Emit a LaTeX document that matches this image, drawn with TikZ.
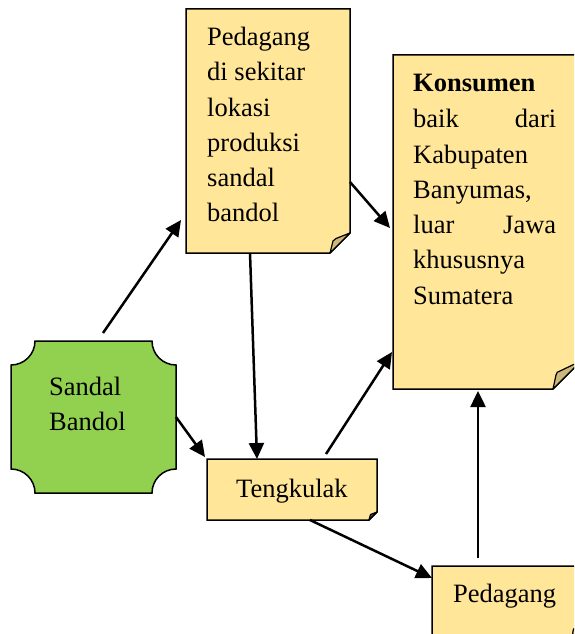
\documentclass[tikz,border=0pt]{standalone}
\usepackage{fontspec}
\setmainfont{Liberation Serif}
\usetikzlibrary{arrows.meta,calc}
\definecolor{boxy}{HTML}{FFE699}
\definecolor{greenb}{HTML}{92D050}
\definecolor{flapc}{HTML}{CCB87A}
\begin{document}
\begin{tikzpicture}[x=1pt,y=-1pt,
  boxfill/.style={fill=boxy,draw=black,line width=1.5pt,line join=miter},
  flap/.style={fill=flapc,draw=black,line width=1.2pt,line join=round},
  holder/.style={inner sep=0pt,outer sep=0pt,draw=none},
  conn/.style={-{Triangle[length=16pt,width=15pt]},line width=2.5pt},
  lbl/.style={anchor=base west,inner sep=0pt,font=\fontsize{26.5}{35}\selectfont}]
\useasboundingbox (0,0) rectangle (574,634);
\clip (0,0) rectangle (574,634);

% top box: Pedagang di sekitar ...
\draw[boxfill] (186,9) -- (350,9) -- (350,233) -- (330,253) -- (186,253) -- cycle;
\draw[flap] (330,253) -- (333,241) .. controls (334,239) .. (336,238.5) -- (350,233) -- cycle;
\node[holder,minimum width=164pt,minimum height=244pt] (b1) at (268,131) {};
\foreach \t [count=\i from 0] in {Pedagang, di sekitar, lokasi, produksi, sandal, bandol}
  \node[lbl] (b1t\i) at (207,{46+35*\i}) {\t};

% Konsumen box
\draw[boxfill] (393,55) -- (581,55) -- (581,361) -- (553,389) -- (393,389) -- cycle;
\draw[flap] (553,389) -- (556,375) .. controls (557,372) .. (560,371) -- (581,361) -- cycle;
\node[holder,minimum width=188pt,minimum height=334pt] (kon) at (487,222) {};
\node[lbl] (k0) at (413,92) {\textbf{Konsumen}};
\node[lbl] (k1) at (413,127) {\makebox[143pt][l]{baik\hfill dari}};
\node[lbl] (k2) at (413,163) {Kabupaten};
\node[lbl] (k3) at (413,198) {Banyumas,};
\node[lbl] (k4) at (413,233) {\makebox[143pt][l]{luar\hfill Jawa}};
\node[lbl] (k5) at (413,268) {khususnya};
\node[lbl] (k6) at (413,304) {Sumatera};

% Sandal Bandol (green plaque)
\draw[fill=greenb,draw=black,line width=1.5pt]
  (11,365) -- (11,469) .. controls (24.25,469) and (35,479.75) .. (35,493)
  -- (152,493) .. controls (152,479.75) and (162.75,469) .. (176,469)
  -- (176,365) .. controls (162.75,365) and (152,354.25) .. (152,341)
  -- (35,341) .. controls (35,354.25) and (24.25,365) .. (11,365) -- cycle;
\node[holder,minimum width=165pt,minimum height=152pt] (sb) at (93.5,417) {};
\node[lbl] (sb1) at (49,395) {Sandal};
\node[lbl] (sb2) at (49,430) {Bandol};

% Tengkulak box
\draw[boxfill] (207,459) -- (377,459) -- (377,512) -- (369,520) -- (207,520) -- cycle;
\draw[flap,fill=black!70] (369,520) -- (370.5,514.5) -- (377,512) -- cycle;
\node[holder,minimum width=170pt,minimum height=61pt] (tk) at (292,489.5) {};
\node[lbl] (tk1) at (236,497) {Tengkulak};

% Pedagang (bottom) box
\draw[boxfill] (432,566) -- (588,566) -- (588,626) -- (572,642) -- (432,642) -- cycle;
\draw[flap] (572,642) -- (573,631) .. controls (573.5,628.5) .. (576,628) -- (588,626) -- cycle;
\node[holder,minimum width=156pt,minimum height=76pt] (pd) at (510,604) {};
\node[lbl] (pd1) at (453,602) {Pedagang};

% connectors
\draw[conn] ([shift={(92,-8)}]sb.north west) -- ([shift={(-5,89)}]b1.west);
\draw[conn] (sb.east) -- ([shift={(-2,-2)}]tk.north west);
\draw[conn] ([shift={(64,0)}]b1.south west) -- ([shift={(50,0)}]tk.north west);
\draw[conn] ([shift={(0,51)}]b1.east) -- ([shift={(-3,6)}]kon.west);
\draw[conn] ([shift={(119,-5)}]tk.north west) -- ([shift={(-1,-37)}]kon.south west);
\draw[conn] ([shift={(103,0)}]tk.south west) -- ([shift={(0,12)}]pd.north west);
\draw[conn] ([shift={(46,-8)}]pd.north west) -- ([shift={(85,2)}]kon.south west);
\end{tikzpicture}
\end{document}
